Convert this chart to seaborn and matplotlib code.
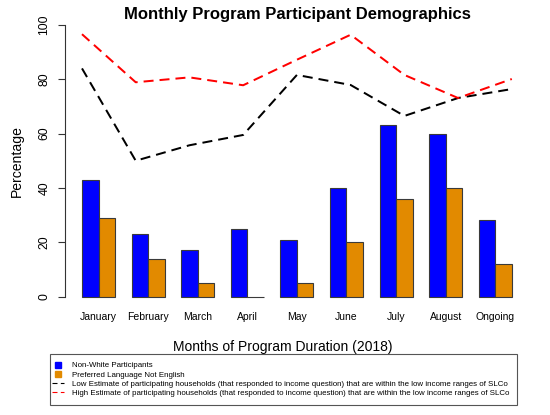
import numpy as np
import pandas as pd
import matplotlib
matplotlib.use("Agg")
import matplotlib.pyplot as plt
import seaborn as sns
from matplotlib.lines import Line2D
from matplotlib.patches import Rectangle

# ---------------- data ----------------
months = ["January", "February", "March", "April", "May",
          "June", "July", "August", "Ongoing"]
non_white = [43, 23, 17, 25, 21, 40, 63, 60, 28]
not_english = [29, 14, 5, 0, 5, 20, 36, 40, 12]
low_estimate = [84, 50, 55.7, 59.5, 81.6, 77.9, 66.5, 73.1, 76.4]
high_estimate = [96.6, 78.9, 80.7, 77.8, 87.2, 96.4, 81.6, 73.1, 80.1]
y_ticks = [0, 20, 40, 60, 80, 100]

bar_names = ["Non-White Participants", "Preferred Language Not English"]
line_names = [
    "Low Estimate of participating households (that responded to income question) that are within the low income ranges of SLCo",
    "High Estimate of participating households (that responded to income question) that are within the low income ranges of SLCo",
]
bar_colors = ["#0000FF", "#E28A00"]
line_colors = ["black", "#FF0000"]

title = "Monthly Program Participant Demographics"
x_label = "Months of Program Duration (2018)"
y_label = "Percentage"

# ---------------- style ----------------
sns.set_theme(style="white")
plt.rcParams["font.family"] = ["Liberation Sans", "DejaVu Sans"]
plt.rcParams["text.color"] = "black"
plt.rcParams["axes.labelcolor"] = "black"
plt.rcParams["xtick.color"] = "black"
plt.rcParams["ytick.color"] = "black"

W, H = 550, 415
fig = plt.figure(figsize=(W / 100, H / 100), dpi=100)


def box(x0, y0, x1, y1):
    return [x0 / W, 1 - y1 / H, (x1 - x0) / W, (y1 - y0) / H]


ax = fig.add_axes(box(64.8, 14.1, 529, 307.4))

df = pd.DataFrame({
    "month": months * 2,
    "value": non_white + not_english,
    "series": [bar_names[0]] * len(months) + [bar_names[1]] * len(months),
})
sns.barplot(data=df, x="month", y="value", hue="series", order=months,
            hue_order=bar_names, palette=bar_colors, saturation=1,
            width=2 / 3, edgecolor="#3a3a3a", linewidth=0.8,
            errorbar=None, legend=False, ax=ax)

n = len(months)
pad = (n + 2 / 3 - 1) * 0.04
ax.set_xlim(-1 / 3 - pad, n - 1 + 1 / 3 + pad)
ax.set_ylim(-4, 104)
ax.set_yticks(y_ticks)
ax.set_yticklabels([str(t) for t in y_ticks])
ax.set_xlabel("")
ax.set_ylabel(y_label, fontsize=10.1, va="bottom", color="black")
ax.yaxis.set_label_coords(-0.088, 0.5)

for s in ["top", "right", "bottom"]:
    ax.spines[s].set_visible(False)
ax.spines["left"].set_bounds(0, 100)
ax.spines["left"].set_color("#333333")
ax.spines["left"].set_linewidth(0.8)

ax.tick_params(axis="y", direction="out", length=5, width=0.8,
               color="#333333", labelcolor="black", labelsize=8.8,
               pad=5.3, labelrotation=90, left=True)
for lab in ax.get_yticklabels():
    lab.set_va("center")
ax.tick_params(axis="x", length=0, pad=3, labelsize=7.5, labelcolor="black")

# lines on a twin x-axis spanning the bar extent
ax2 = ax.twiny()
ax2.set_xlim(-(n - 1) * 0.04, (n - 1) * 1.04)
idx = np.arange(n)
for vals, col in zip([low_estimate, high_estimate], line_colors):
    sns.lineplot(x=idx, y=vals, color=col, lw=1.44,
                 linestyle=(0, (5, 3)), ax=ax2)
for ln in ax2.lines:
    ln.set_dashes((5, 3))
ax2.set_xticks([])
ax2.set_xlabel("")
for s in ax2.spines.values():
    s.set_visible(False)
ax2.set_ylim(-4, 104)

# titles
fig.text(297 / W, 1 - 18.5 / H, title, ha="center", va="baseline",
         fontsize=12, fontweight="bold", color="black")
fig.text(282.5 / W, 1 - 351 / H, x_label, ha="center", va="baseline",
         fontsize=10, color="black")

# legend
fig.add_artist(Rectangle((50 / W, 1 - 405 / H), 467 / W, 51 / H,
                         transform=fig.transFigure, fill=False,
                         edgecolor="#555555", lw=0.8))
handles = [
    Line2D([], [], ls="none", marker="s", markersize=4.5,
           markerfacecolor=bar_colors[0], markeredgecolor=bar_colors[0]),
    Line2D([], [], ls="none", marker="s", markersize=4.5,
           markerfacecolor=bar_colors[1], markeredgecolor=bar_colors[1]),
    Line2D([], [], color=line_colors[0], lw=0.8, dashes=(4.5, 3)),
    Line2D([], [], color=line_colors[1], lw=0.8, dashes=(4.5, 3)),
]
fig.legend(handles, bar_names + line_names, loc="center left",
           bbox_to_anchor=(51.5 / W, 1 - 379.5 / H), frameon=False,
           fontsize=5.7, handlelength=1.6, handletextpad=1.05,
           labelspacing=0.22, borderpad=0, borderaxespad=0,
           labelcolor="black")

fig.savefig("out.png", dpi=100)
